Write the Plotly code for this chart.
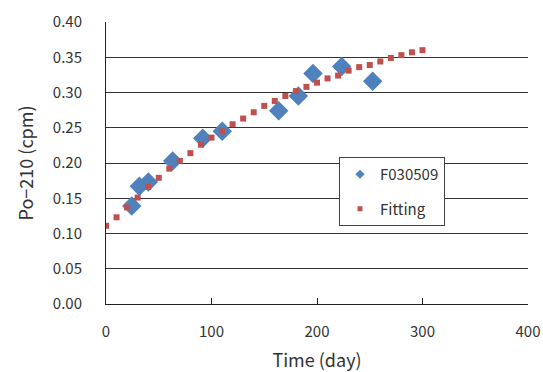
import plotly.graph_objects as go

# Measured Po-210 activity for sample F030509
meas_day = [24.4, 31.6, 40.1, 63.2, 91.7, 110.2, 163.7, 182.3, 196.2, 223.4, 252.8]
meas_cpm = [0.139, 0.167, 0.173, 0.203, 0.235, 0.245, 0.274, 0.295, 0.327, 0.337, 0.316]

# Ingrowth fitting curve, evaluated every 10 days
fit_day = [0, 10, 20, 30, 40, 50, 60, 70, 80, 90, 100, 110, 120, 130, 140, 150,
           160, 170, 180, 190, 200, 210, 220, 230, 240, 250, 260, 270, 280, 290, 300]
fit_cpm = [0.111, 0.123, 0.137, 0.151, 0.166, 0.179, 0.192, 0.203, 0.214, 0.226,
           0.236, 0.245, 0.255, 0.263, 0.272, 0.281, 0.288, 0.295, 0.302, 0.308,
           0.314, 0.320, 0.324, 0.331, 0.336, 0.339, 0.344, 0.349, 0.353, 0.357, 0.360]

y_ticks = [0.00, 0.05, 0.10, 0.15, 0.20, 0.25, 0.30, 0.35, 0.40]
x_ticks = [0, 100, 200, 300, 400]

FONT = "Noto Sans CJK JP, DejaVu Sans, sans-serif"
BLUE = "#4F81BD"
RED = "#C0504D"

fig = go.Figure()
fig.add_trace(go.Scatter(
    x=meas_day, y=meas_cpm, mode="markers", name="F030509", showlegend=False,
    marker=dict(symbol="diamond", size=15, color=BLUE, line=dict(width=0)),
))
fig.add_trace(go.Scatter(
    x=fit_day, y=fit_cpm, mode="markers", name="Fitting", showlegend=False,
    marker=dict(symbol="square", size=6, color=RED, line=dict(width=0)),
))
# Legend entries with smaller key symbols
fig.add_trace(go.Scatter(
    x=[None], y=[None], mode="markers", name="F030509", legendgroup="a",
    marker=dict(symbol="diamond", size=7, color=BLUE, line=dict(width=0)),
))
fig.add_trace(go.Scatter(
    x=[None], y=[None], mode="markers", name="Fitting", legendgroup="b",
    marker=dict(symbol="square", size=5, color=RED, line=dict(width=0)),
))

plot_l, plot_r, plot_t, plot_b = 106, 15, 22, 68
plot_w = 543 - plot_l - plot_r
plot_h = 372 - plot_t - plot_b

fig.update_layout(
    width=543, height=372,
    margin=dict(l=plot_l, r=plot_r, t=plot_t, b=plot_b),
    paper_bgcolor="white", plot_bgcolor="white",
    font=dict(family=FONT, size=15, color="#333333"),
    showlegend=True,
    legend=dict(
        x=(339 - plot_l) / plot_w, y=1 - (157 - plot_t) / plot_h,
        xanchor="left", yanchor="top",
        bgcolor="white", bordercolor="#444444", borderwidth=1,
        font=dict(size=15), traceorder="grouped", tracegroupgap=12,
        itemwidth=30,
    ),
    xaxis=dict(
        range=[0, 400], tickvals=x_ticks, ticktext=[str(v) for v in x_ticks],
        showgrid=False, zeroline=False, automargin=False,
        showline=True, linecolor="#222222", linewidth=1,
        ticks="inside", ticklen=6, tickcolor="#222222",
        ticklabelstandoff=14,
        title=dict(text="Time (day)", standoff=14),
    ),
    yaxis=dict(
        range=[0, 0.4], tickvals=y_ticks, ticktext=[f"{v:.2f}" for v in y_ticks],
        showgrid=True, gridcolor="#333333", gridwidth=1, zeroline=False,
        automargin=False,
        showline=True, linecolor="#222222", linewidth=1,
        ticks="", ticklabelstandoff=20,
        title=dict(text="Po\u2212210 (cpm)", standoff=14),
    ),
)

fig.write_html("out.html")
